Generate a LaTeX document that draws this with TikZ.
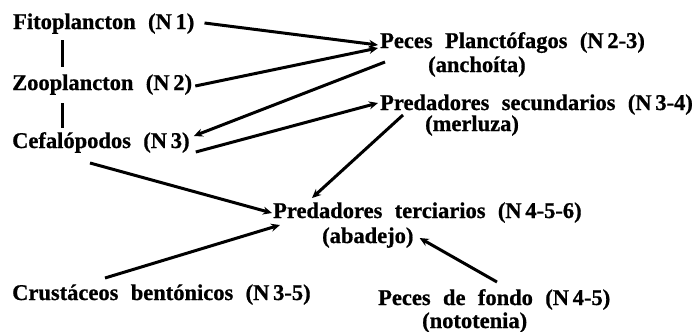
\documentclass[tikz,border=0pt]{standalone}
\usepackage{fontspec}
\setmainfont{Liberation Serif}[WordSpace=2.2,BoldFeatures={FakeBold=0.8}]
\usetikzlibrary{arrows.meta,calc}
\begin{document}
\begin{tikzpicture}[x=1pt,y=-1pt,
  lbl/.style={inner sep=0pt,anchor=base west,font=\fontsize{22.5}{24}\selectfont\bfseries},
  conn/.style={line width=3pt,-{Stealth[length=9pt,width=8pt]}},
  tie/.style={line width=3pt}]
\useasboundingbox (0,0) rectangle (694,332);
\node[lbl] (fito) at (13,29) {Fitoplancton (N\,1)};
\node[lbl] (zoo) at (12,90) {Zooplancton (N\,2)};
\node[lbl] (cefal) at (12,148) {Cefalópodos (N\,3)};
\node[lbl] (peces) at (380,48) {Peces Planctófagos (N\,2-3)};
\node[lbl] (anch) at (428,72) {(anchoíta)};
\node[lbl] (predsec) at (380,110) {Predadores secundarios (N\,3-4)};
\node[lbl] (merl) at (425,131) {(merluza)};
\node[lbl] (terc) at (273,218) {Predadores terciarios (N\,4-5-6)};
\node[lbl] (abad) at (322,243) {(abadejo)};
\node[lbl] (crust) at (12,300) {Crustáceos bentónicos (N\,3-5)};
\node[lbl] (fondo) at (378,305) {Peces de fondo (N\,4-5)};
\node[lbl] (notot) at (422,328) {(nototenia)};
% vertical ties
\draw[tie] ($(fito.base west)+(49,11)$) -- ($(zoo.base west)+(50,-23)$);
\draw[tie] ($(zoo.base west)+(50,13)$) -- ($(cefal.base west)+(50,-20)$);
% arrows
\draw[conn] ($(fito.base east)+(10,-6)$) -- ($(peces.base west)+(-2,-3)$);
\draw[conn] ($(zoo.base east)+(3,-4)$) -- ($(peces.base west)+(-2,0)$);
\draw[conn] ($(peces.base west)+(5,14)$) -- ($(cefal.base east)+(4,-12)$);
\draw[conn] ($(cefal.base east)+(6,4)$) -- ($(predsec.base west)+(-2,-7)$);
\draw[conn] ($(predsec.base west)+(23,5)$) -- ($(terc.base west)+(39,-20)$);
\draw[conn] ($(cefal.base west)+(78,15)$) -- ($(terc.base west)+(-1,-5)$);
\draw[conn] ($(crust.base west)+(93,-22)$) -- ($(terc.base west)+(7,7)$);
\draw[conn] ($(fondo.base west)+(119,-23)$) -- ($(abad.base east)+(6,-5)$);
\end{tikzpicture}
\end{document}
